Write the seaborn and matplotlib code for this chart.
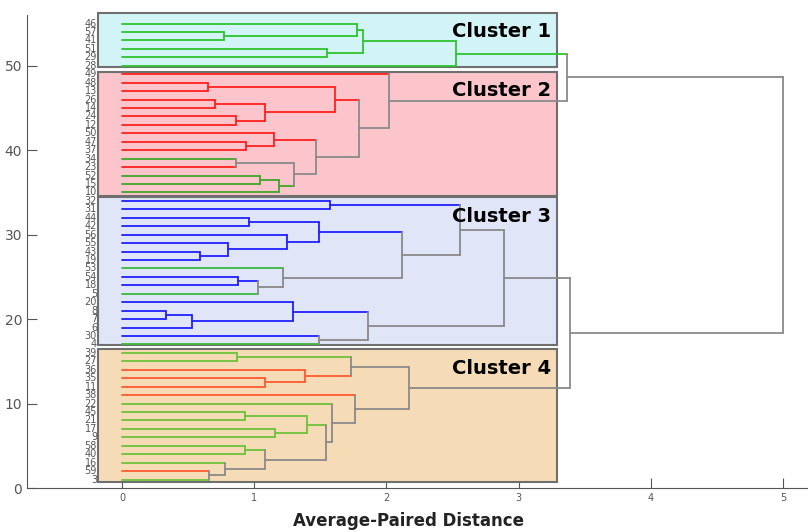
import matplotlib
matplotlib.use('Agg')
import matplotlib.pyplot as plt
from matplotlib.patches import Rectangle
import seaborn as sns

# folhas do dendrograma, de cima para baixo
leaf_labels = ['46', '57', '41', '51', '29', '28',
               '49', '48', '13', '26', '14', '24', '12', '50', '47', '37', '34', '23', '52', '15', '10',
               '32', '31', '44', '42', '56', '55', '43', '19', '53', '54', '18', '5', '20', '8', '7', '6', '30', '4',
               '39', '27', '36', '35', '11', '38', '22', '45', '21', '17', '9', '58', '40', '16', '59', '3']
leaf_groups = ['g1'] * 6 + \
              ['r'] * 10 + ['g2', 'r', 'g2', 'g2', 'g2'] + \
              ['b'] * 8 + ['g3', 'b', 'b', 'g3', 'b', 'b', 'b', 'b', 'b', 'g3'] + \
              ['g4', 'g4', 'o', 'o', 'o', 'o', 'g4', 'g4', 'g4', 'g4', 'g4', 'g4', 'g4', 'g4', 'o', 'g4']

# fusoes: (no, filho A, filho B, distancia)
merges = [
    ('a1', '57', '41', 0.77), ('a2', '46', 'a1', 1.78), ('a3', '51', '29', 1.55),
    ('a4', 'a2', 'a3', 1.82), ('c1', 'a4', '28', 2.53),
    ('b1', '48', '13', 0.65), ('b2', '26', '14', 0.70), ('b3', '24', '12', 0.86),
    ('b4', 'b2', 'b3', 1.08), ('b5', 'b1', 'b4', 1.61), ('b6', '47', '37', 0.94),
    ('b7', '50', 'b6', 1.15), ('b8', '34', '23', 0.86), ('b9', '52', '15', 1.04),
    ('b10', 'b9', '10', 1.19), ('b11', 'b8', 'b10', 1.30), ('b12', 'b7', 'b11', 1.47),
    ('b13', 'b5', 'b12', 1.79), ('c2', '49', 'b13', 2.02),
    ('d1', '32', '31', 1.57), ('d2', '44', '42', 0.96), ('d3', '43', '19', 0.59),
    ('d4', '55', 'd3', 0.80), ('d5', '56', 'd4', 1.25), ('d6', 'd2', 'd5', 1.49),
    ('d7', '54', '18', 0.88), ('d8', 'd7', '5', 1.03), ('d9', '53', 'd8', 1.22),
    ('d10', 'd6', 'd9', 2.12), ('d11', 'd1', 'd10', 2.56), ('d12', '8', '7', 0.33),
    ('d13', 'd12', '6', 0.53), ('d14', '20', 'd13', 1.29), ('d15', '30', '4', 1.49),
    ('d16', 'd14', 'd15', 1.86), ('c3', 'd11', 'd16', 2.89),
    ('e1', '39', '27', 0.87), ('e2', '35', '11', 1.08), ('e3', '36', 'e2', 1.38),
    ('e4', 'e1', 'e3', 1.73), ('e5', '45', '21', 0.93), ('e6', '17', '9', 1.16),
    ('e7', 'e5', 'e6', 1.40), ('e8', '58', '40', 0.93), ('e9', '59', '3', 0.66),
    ('e10', '16', 'e9', 0.78), ('e11', 'e8', 'e10', 1.08), ('e12', 'e7', 'e11', 1.54),
    ('e13', '22', 'e12', 1.59), ('e14', '38', 'e13', 1.76), ('c4', 'e4', 'e14', 2.17),
    ('c12', 'c1', 'c2', 3.37), ('c34', 'c3', 'c4', 3.39), ('root', 'c12', 'c34', 5.00),
]
merge_groups = ['g1'] * 5 + \
               ['r', 'r', 'r', 'r', 'r', 'r', 'r', 'k', 'g2', 'g2', 'k', 'k', 'k', 'k'] + \
               ['b', 'b', 'b', 'b', 'b', 'b', 'b', 'k', 'k', 'k', 'k', 'b', 'b', 'b', 'k', 'k', 'k'] + \
               ['g4', 'o', 'o', 'k', 'g4', 'g4', 'g4', 'g4', 'k', 'k', 'k', 'k', 'k', 'k', 'k'] + \
               ['k', 'k', 'k']

cluster_names = ['Cluster 1', 'Cluster 2', 'Cluster 3', 'Cluster 4']

cores = {'g1': '#2ec42e', 'r': '#ff2020', 'g2': '#3fa52a', 'b': '#2020ff',
         'g3': '#3cb83c', 'g4': '#6cc23a', 'o': '#ff5a30', 'k': '#8a8a8a'}
cores_caixa = ['#d3f4f7', '#fcc5cc', '#e0e6f8', '#f5dcb7']
# limites das caixas (base, topo) e altura do titulo
caixa_base = [49.8, 34.6, 16.9, 0.7]
caixa_topo = [56.2, 49.3, 34.4, 16.5]
titulo_y = [54.1, 47.1, 32.2, 14.2]

sns.set_style('ticks')
fig = plt.figure(figsize=(8.08, 5.32), dpi=100)
ax = fig.add_axes([0.0334, 0.0827, 0.9666, 0.889])

# posicoes (y das folhas, x = 0)
n = len(leaf_labels)
pos = {}
cor_no = {}
for i, (lab, g) in enumerate(zip(leaf_labels, leaf_groups)):
    pos[lab] = (0.0, n - i)
    cor_no[lab] = cores[g]
for (nome, a, b, h), g in zip(merges, merge_groups):
    pos[nome] = (h, (pos[a][1] + pos[b][1]) / 2)
    cor_no[nome] = cores[g]

# desenhando os links
for nome, a, b, h in merges:
    for filho in (a, b):
        x0, y0 = pos[filho]
        ax.plot([x0, h], [y0, y0], color=cor_no[filho], lw=1.3, zorder=3)
    ax.plot([h, h], [pos[a][1], pos[b][1]], color=cor_no[nome], lw=1.3, zorder=3)

# caixas dos clusters
for nome_c, cor, b0, b1, ty in zip(cluster_names, cores_caixa, caixa_base, caixa_topo, titulo_y):
    ax.add_patch(Rectangle((-0.18, b0), 3.47, b1 - b0, facecolor=cor,
                           edgecolor='#6f6f6f', lw=1.5, zorder=1, clip_on=False))
    ax.text(3.245, ty, nome_c, ha='right', va='center', fontsize=14,
            fontweight='semibold', color='black', zorder=4)

# rotulos das folhas
for lab in leaf_labels:
    ax.text(-0.19, pos[lab][1], lab, ha='right', va='center', fontsize=7,
            color='#555555', zorder=4)

ax.set_xlim(-0.72, 5.19)
ax.set_ylim(0, 56)
ax.set_xticks([0, 1, 2, 3, 4, 5])
ax.set_yticks([0, 10, 20, 30, 40, 50])
ax.tick_params(axis='y', direction='in', length=7, labelsize=10, labelcolor='#555555', color='#555555')
ax.tick_params(axis='x', direction='in', length=7, labelsize=7, labelcolor='#555555', color='#555555')
sns.despine(ax=ax)
ax.spines['left'].set_color('#555555')
ax.spines['bottom'].set_color('#555555')

fig.text(0.505, 0.02, 'Average-Paired Distance', ha='center', va='center',
         fontsize=12, fontweight='bold', color='#222222')

plt.savefig('out.png', dpi=100)
